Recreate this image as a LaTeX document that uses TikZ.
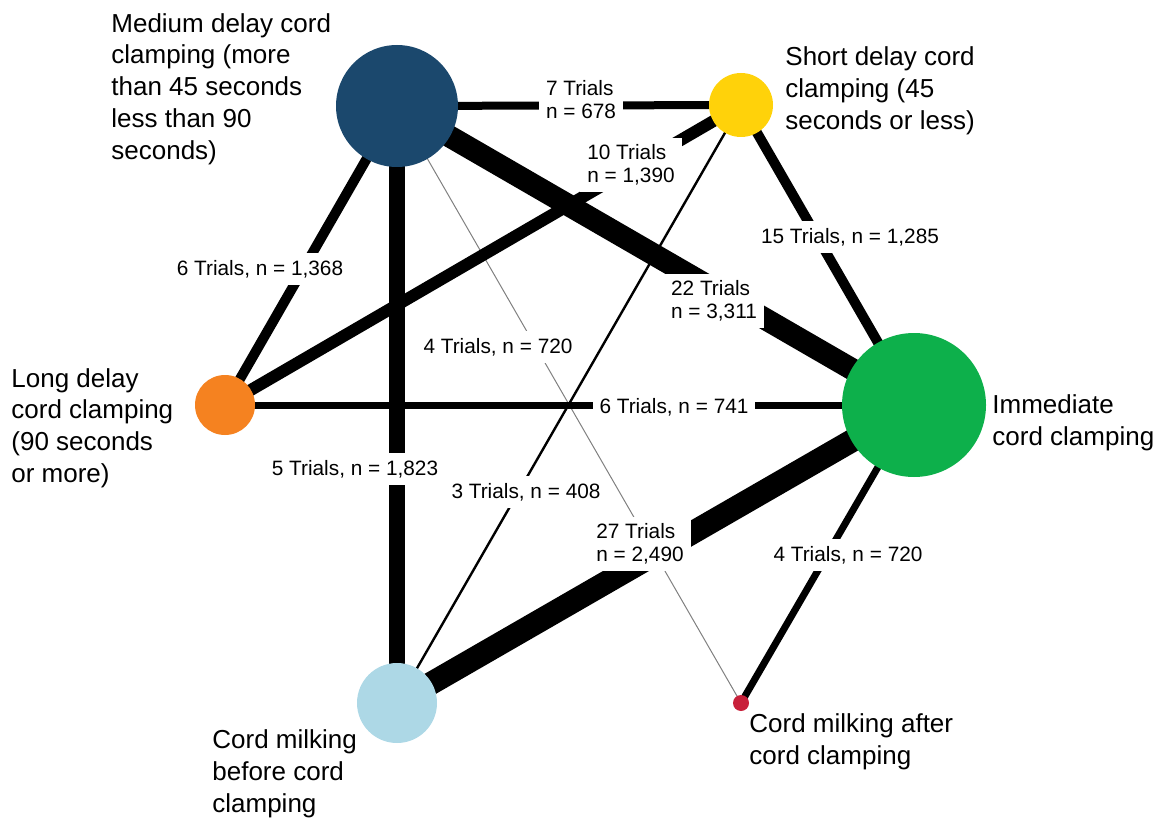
\documentclass[tikz,border=0pt]{standalone}
\usepackage{fontspec}
\setmainfont{Liberation Sans}
\usetikzlibrary{backgrounds}
\definecolor{medblue}{HTML}{1B486D}
\definecolor{shortyel}{HTML}{FFD20A}
\definecolor{longorg}{HTML}{F58220}
\definecolor{immgrn}{HTML}{0DB04B}
\definecolor{beforeblu}{HTML}{ADD8E6}
\definecolor{afterred}{HTML}{C8203A}
\tikzset{
  trt/.style={circle, inner sep=0pt, minimum size=#1},
  nlabel/.style={anchor=west, align=left, inner sep=0pt, font=\fontsize{13}{15.9}\selectfont},
  elabel/.style={fill=white, align=left, inner sep=3.5pt, font=\fontsize{10.4}{11.5}\selectfont},
  link/.style={line width=#1},
}

\begin{document}
\begin{tikzpicture}[x=0.5pt,y=-0.5pt]
\useasboundingbox (0,0) rectangle (1156,818);
%-----treatments----------------------------------
\node[trt=61pt, fill=medblue] (med) at (397,106) {};
\node[trt=32pt, fill=shortyel] (short) at (741,105) {};
\node[trt=30pt, fill=longorg] (long) at (225,405) {};
\node[trt=72pt, fill=immgrn] (imm) at (914,405) {};
\node[trt=40pt, fill=beforeblu] (before) at (397,703) {};
\node[trt=8pt, fill=afterred] (after) at (741,703) {};
%-----comparisons---------------------------------
\begin{scope}[on background layer]
\draw[link=4pt] (med.center) -- (short.center);
\draw[link=5pt] (med.center) -- (long.center);
\draw[link=11pt] (med.center) -- (imm.center);
\draw[link=7.8pt] (med.center) -- (before.center);
\draw[link=0.5pt, gray] (med.center) -- (after.center);
\draw[link=6pt] (short.center) -- (long.center);
\draw[link=5pt] (short.center) -- (imm.center);
\draw[link=1.2pt] (short.center) -- (before.center);
\draw[link=3.5pt] (long.center) -- (imm.center);
\draw[link=11.5pt] (imm.center) -- (before.center);
\draw[link=3.5pt] (imm.center) -- (after.center);
\end{scope}
%-----trial counts--------------------------------
\node[elabel] (l-ms) at (581,100) {7 Trials\\n = 678};
\node[elabel] (l-sl) at (631,165) {10 Trials\\n = 1,390};
\node[elabel] (l-ml) at (260,269) {6 Trials, n = 1,368};
\node[elabel] (l-mi) at (714,301) {22 Trials\\n = 3,311};
\node[elabel] (l-si) at (850,237) {15 Trials, n = 1,285};
\node[elabel] (l-ma) at (498,347) {4 Trials, n = 720};
\node[elabel] (l-li) at (674,407) {6 Trials, n = 741};
\node[elabel] (l-mb) at (355,469) {5 Trials, n = 1,823};
\node[elabel] (l-sb) at (526,492) {3 Trials, n = 408};
\node[elabel] (l-ib) at (640,544) {27 Trials\\n = 2,490};
\node[elabel] (l-ia) at (848,555) {4 Trials, n = 720};
%-----names---------------------------------------
\node[nlabel] (t-med) at (111,89) {Medium delay cord\\clamping (more\\than 45 seconds\\less than 90\\seconds)};
\node[nlabel] (t-short) at (785,91) {Short delay cord\\clamping (45\\seconds or less)};
\node[nlabel] (t-long) at (11,428) {Long delay\\cord clamping\\(90 seconds\\or more)};
\node[nlabel] (t-imm) at (992,423) {Immediate\\cord clamping};
\node[nlabel] (t-before) at (212,774) {Cord milking\\before cord\\clamping};
\node[nlabel] (t-after) at (749,742) {Cord milking after\\cord clamping};
\end{tikzpicture}
\end{document}
